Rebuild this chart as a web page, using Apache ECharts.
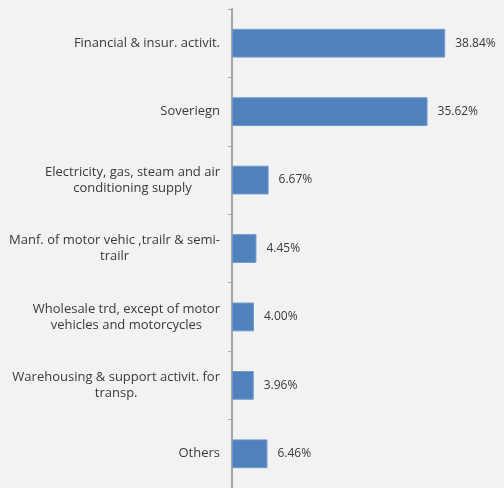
<!DOCTYPE html>
<html>
<head>
<meta charset="utf-8">
<script src="https://cdn.jsdelivr.net/npm/echarts@6/dist/echarts.min.js"></script>
<style>
  html, body { margin: 0; padding: 0; background: #f2f2f2; }
  #chart { width: 504px; height: 488px; }
</style>
</head>
<body>
<div id="chart"></div>
<script>
// Sector breakdown, share of total (%)
const categories = [
  'Financial & insur. activit.',
  'Soveriegn',
  'Electricity, gas, steam and air\nconditioning supply',
  'Manf. of motor vehic ,trailr & semi-\ntrailr',
  'Wholesale trd, except of motor\nvehicles and motorcycles',
  'Warehousing & support activit. for\ntransp.',
  'Others'
];
const shares = [38.84, 35.62, 6.67, 4.45, 4.00, 3.96, 6.46];

const FONT = '"Open Sans", sans-serif';
const TEXT = '#3a3a3a';

const chart = echarts.init(document.getElementById('chart'), null, { renderer: 'canvas' });
chart.setOption({
  backgroundColor: '#f2f2f2',
  animation: false,
  grid: { left: 232, right: 25, top: 9, bottom: -3, containLabel: false },
  xAxis: {
    type: 'value',
    min: 0,
    max: 45,
    show: false
  },
  yAxis: {
    type: 'category',
    data: categories,
    inverse: true,
    axisLine: { show: true, lineStyle: { color: '#a6a6a6', width: 2 } },
    axisTick: { show: true, length: 4, lineStyle: { color: '#a6a6a6', width: 1 } },
    axisLabel: {
      margin: 12,
      fontFamily: FONT,
      fontSize: 13,
      color: TEXT,
      lineHeight: 16,
      // each wrapped line is centred within the right-aligned label block
      formatter: function (v) {
        return v.split('\n').map(function (line) { return '{c|' + line + '}'; }).join('\n');
      },
      rich: {
        c: { align: 'center', fontFamily: FONT, fontSize: 13, color: TEXT, lineHeight: 16 }
      }
    }
  },
  series: [{
    type: 'bar',
    data: shares,
    barWidth: '42%',
    itemStyle: { color: '#4f81bd', borderColor: '#6f98cc', borderWidth: 1 },
    label: {
      show: true,
      position: 'right',
      distance: 10,
      fontFamily: FONT,
      fontSize: 12,
      color: TEXT,
      formatter: function (p) { return p.value.toFixed(2) + '%'; }
    }
  }]
});
</script>
</body>
</html>
